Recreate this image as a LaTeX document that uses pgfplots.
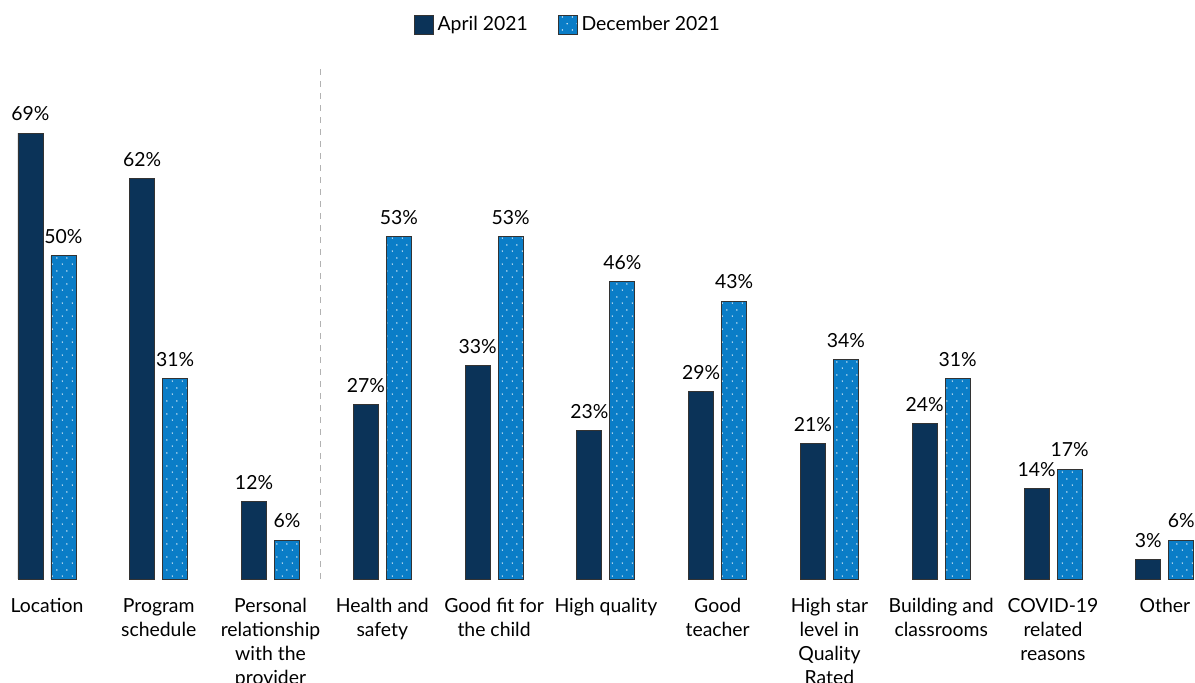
\documentclass[border=0pt]{standalone}
\usepackage{fontspec}
\setmainfont{Lato}
\usepackage{pgfplots}
\pgfplotsset{compat=1.18}
\usetikzlibrary{patterns.meta}
\definecolor{navy}{HTML}{0B3358}
\definecolor{dotblue}{HTML}{0A7DC7}
\pgfdeclarepattern{name=wdots, type=uncolored,
  bottom left={\pgfpoint{0pt}{0pt}}, top right={\pgfpoint{5pt}{6.5pt}},
  tile size={\pgfpoint{5pt}{6.5pt}},
  code={\pgfpathcircle{\pgfpoint{1.25pt}{1.6pt}}{0.4pt}\pgfpathcircle{\pgfpoint{3.75pt}{4.85pt}}{0.4pt}\pgfusepath{fill}}}
\begin{document}
\begin{tikzpicture}[every node/.append style={font=\fontsize{9.7}{12}\selectfont}]
\useasboundingbox (0,-52pt) rectangle (597.5pt,289.5pt);
\begin{axis}[
  at={(0,0)}, anchor=south west,
  scale only axis, width=597.5pt, height=259.5pt,
  ybar, bar width=12.5pt,
  xmin=-0.42, xmax=10.27, ymin=0, ymax=80.3,
  axis line style={draw=none}, tick style={draw=none},
  ytick=\empty,
  xtick={0,...,10},
  xticklabels={{Location},{Program\\schedule},{Personal\\relationship\\with the\\provider},{Health and\\safety},{Good fit for\\the child},{High quality},{Good\\teacher},{High star\\level in\\Quality\\Rated},{Building and\\classrooms},{COVID-19\\related\\reasons},{Other}},
  xticklabel style={align=center, font=\fontsize{9.7}{12}\selectfont, anchor=north, yshift=-2pt},
  /pgf/number format/assume math mode=true,
  nodes near coords={\pgfmathprintnumber{\pgfplotspointmeta}\%},
  nodes near coords style={font=\fontsize{9.7}{12}\selectfont, text=black, yshift=2.5pt},
  legend columns=2,
  legend style={at={(0.476,1.067)}, anchor=center, draw=none, fill=none,
    font=\fontsize{9.7}{12}\selectfont, /tikz/every even column/.append style={column sep=13pt}},
  legend image code/.code={\draw[#1] (0pt,-4.5pt) rectangle (9.5pt,5pt);},
  clip=false,
]
\addplot[bar shift=-8.25pt, fill=navy, draw=black!80, line width=0.4pt] coordinates {
 (0,69) (1,62) (2,12) (3,27) (4,33) (5,23) (6,29) (7,21) (8,24) (9,14) (10,3)};
\addlegendentry{April 2021}
\addplot[bar shift=8.25pt, fill=dotblue, draw=black!80, line width=0.4pt,
  postaction={pattern={wdots}, pattern color=white}] coordinates {
 (0,50) (1,31) (2,6) (3,53) (4,53) (5,46) (6,43) (7,34) (8,31) (9,17) (10,6)};
\addlegendentry{December 2021}
\draw[black!30, dashed, line width=0.5pt] (axis cs:2.45,0) -- (axis cs:2.45,79.5);
\end{axis}
\end{tikzpicture}
\end{document}
